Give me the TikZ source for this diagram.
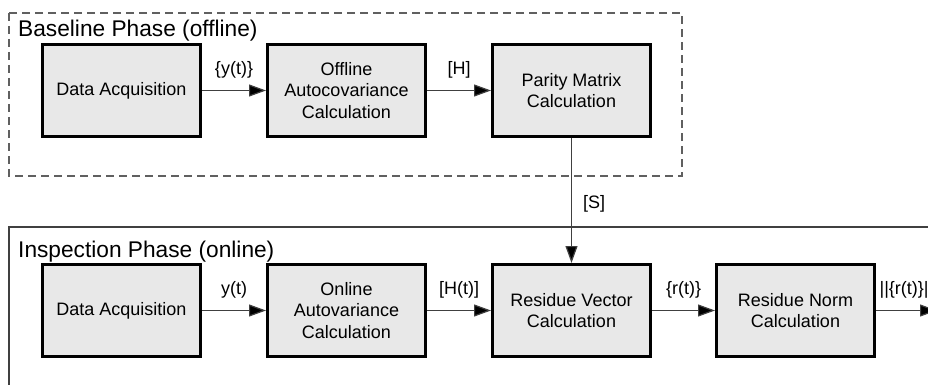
\documentclass[tikz,border=0pt]{standalone}
\usepackage{fontspec}
\setmainfont{Liberation Sans}
\usetikzlibrary{arrows.meta}
\definecolor{boxfill}{HTML}{E8E8E8}
\definecolor{linegray}{HTML}{404040}
\definecolor{dashgray}{HTML}{606060}
\tikzset{
  blk/.style={draw=black, fill=boxfill, line width=3pt, minimum width=158pt, minimum height=92pt,
    inner sep=0pt, align=center, font=\fontsize{18}{21.5}\selectfont},
  arr/.style={draw=linegray, line width=1.2pt, -{Triangle[length=17pt,width=12pt,fill=black]}},
  lbl/.style={anchor=base, yshift=16pt, font=\fontsize{18}{21.5}\selectfont, inner sep=0pt},
  phase/.style={anchor=base west, inner sep=0pt, font=\fontsize{22.7}{26}\selectfont},
}
\begin{document}
\begin{tikzpicture}[x=1pt,y=-1pt]
\useasboundingbox (0,0) rectangle (928,385);
\clip (0,0) rectangle (928,385);
% frames
\draw[dashgray, line width=1.1pt, dash pattern=on 8pt off 5pt] (9,13) rectangle (682,176);
\draw[linegray, line width=1.3pt] (9,227) rectangle (960,420);
\node[phase] (t1) at (18,37) {Baseline Phase (offline)};
\node[phase] (t2) at (18,257) {Inspection Phase (online)};
% top row
\node[blk] (a1) at (121.5,90.5) {Data Acquisition};
\node[blk] (a2) at (346.5,90.5) {Offline\\Autocovariance\\Calculation};
\node[blk] (a3) at (571.5,90.5) {Parity Matrix\\Calculation};
% bottom row
\node[blk] (b1) at (121.5,310.5) {Data Acquisition};
\node[blk] (b2) at (346.5,310.5) {Online\\Autovariance\\Calculation};
\node[blk] (b3) at (571.5,310.5) {Residue Vector\\Calculation};
\node[blk] (b4) at (795.5,310.5) {Residue Norm\\Calculation};
\coordinate (out) at (937,310.5);
% connectors
\draw[arr] (a1) -- node[lbl] {\{y(t)\}} (a2);
\draw[arr] (a2) -- node[lbl] {[H]} (a3);
\draw[arr] (a3) -- node[pos=0.55, anchor=base west, inner sep=0pt, font=\fontsize{18}{21.5}\selectfont, xshift=11pt, yshift=-2pt] {[S]} (b3);
\draw[arr] (b1) -- node[lbl] {y(t)} (b2);
\draw[arr] (b2) -- node[lbl] {[H(t)]} (b3);
\draw[arr] (b3) -- node[lbl] {\{r(t)\}} (b4);
\draw[arr] (b4) -- node[lbl, anchor=base west, pos=0] {\,||\{r(t)\}||} (out);
\end{tikzpicture}
\end{document}
